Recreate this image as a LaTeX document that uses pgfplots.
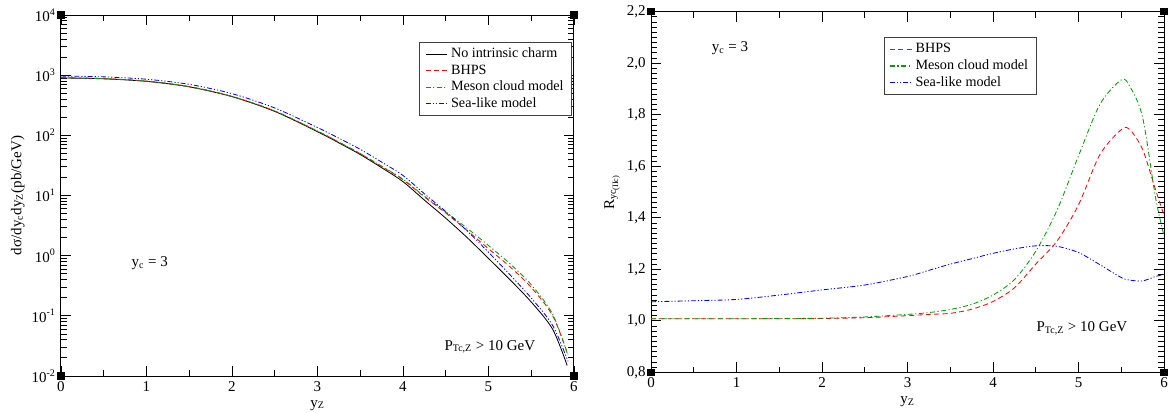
\documentclass[border=0pt]{standalone}
\usepackage{fontspec}
\setmainfont{Liberation Serif}
\usepackage{pgfplots}
\pgfplotsset{compat=1.18}
\definecolor{grgreen}{rgb}{0,0.6,0}
\tikzset{
  nic/.style={draw=black, line width=0.5pt},
  bhps/.style={draw=red, line width=0.5pt, dash pattern=on 3pt off 2pt},
  mcm/.style={draw=grgreen, line width=0.5pt, dash pattern=on 3pt off 1.5pt on 0.7pt off 1.5pt},
  sea/.style={draw=blue, line width=0.5pt, dash pattern=on 3pt off 1.2pt on 0.7pt off 1.2pt on 0.7pt off 1.2pt},
}
\pgfplotsset{
  myax/.style={
    scale only axis, clip=false,
    tick align=inside,
    major tick length=6pt, minor tick length=3.5pt,
    axis line style={line width=0.6pt},
    every tick/.style={black, line width=0.5pt},
    tick label style={font=\fontsize{9}{10}\selectfont},
    label style={font=\fontsize{9}{10}\selectfont},
    /pgf/number format/assume math mode=true,
    xmin=0, xmax=6, xtick={0,1,2,3,4,5,6}, minor x tick num=1,
    xlabel={y\textsubscript{Z}},
    xlabel style={yshift=1pt},
    legend cell align=left,
    legend image code/.code={\draw[##1, line width=0.7pt] (0pt,0pt) -- (13pt,0pt);},
    legend style={draw=black!75, line width=0.6pt, font=\fontsize{8.5}{9.5}\selectfont,
      inner xsep=3pt, inner ysep=1.5pt, row sep=-1.2pt},
  },
}
\newcommand{\corners}{%
  \fill[black] (rel axis cs:0,0) ++(-2.2pt,-2.2pt) rectangle ++(4.4pt,4.4pt);
  \fill[black] (rel axis cs:1,0) ++(-2.2pt,-2.2pt) rectangle ++(4.4pt,4.4pt);
  \fill[black] (rel axis cs:0,1) ++(-2.2pt,-2.2pt) rectangle ++(4.4pt,4.4pt);
  \fill[black] (rel axis cs:1,1) ++(-2.2pt,-2.2pt) rectangle ++(4.4pt,4.4pt);}
\begin{document}
\fontsize{9}{10}\selectfont
\begin{tikzpicture}[x=1pt,y=1pt]
\useasboundingbox (0,0) rectangle (703.2,-247.2);
% ---------------- left panel ----------------
\begin{axis}[myax,
  at={(36.6pt,-225.6pt)}, anchor=south west,
  width=307.8pt, height=216.6pt,
  ymode=log, ymin=1e-2, ymax=1e4,
  ytick={1e-2,1e-1,1,1e1,1e2,1e3,1e4},
  yticklabels={10\textsuperscript{-2},10\textsuperscript{-1},10\textsuperscript{0},10\textsuperscript{1},10\textsuperscript{2},10\textsuperscript{3},10\textsuperscript{4}},
  minor ytick={0.02,0.03,0.04,0.05,0.06,0.07,0.08,0.09,0.2,0.3,0.4,0.5,0.6,0.7,0.8,0.9,2,3,4,5,6,7,8,9,20,30,40,50,60,70,80,90,200,300,400,500,600,700,800,900,2000,3000,4000,5000,6000,7000,8000,9000},
  ylabel={dσ/dy\textsubscript{c}dy\textsubscript{Z}(pb/GeV)},
  ylabel style={yshift=-2pt},
  legend style={at={(0.997,0.926)}, anchor=north east},
]
\addplot[nic, smooth] coordinates {(0,900) (0.5,870) (1,790) (1.5,640) (2,440) (2.5,250) (3,115) (3.25,75) (3.5,48) (3.75,29) (4,17) (4.25,8.4) (4.5,4.2) (4.75,2.0) (5,0.9) (5.25,0.4) (5.5,0.17) (5.75,0.06) (5.92,0.015)};
\addlegendentry{No intrinsic charm}
\addplot[bhps, smooth] coordinates {(0,907) (0.5,877) (1,796) (1.5,645) (2,444) (2.5,253) (3,117.3) (3.25,76.9) (3.5,49.4) (3.75,30.3) (4,18.3) (4.25,9.48) (4.5,5.12) (4.75,2.62) (5,1.305) (5.25,0.656) (5.5,0.297) (5.75,0.101) (5.93,0.0225)};
\addlegendentry{BHPS}
\addplot[mcm, smooth] coordinates {(0,907) (0.5,877) (1,796) (1.5,646) (2,444) (2.5,254) (3,117.9) (3.25,77.4) (3.5,49.9) (3.75,30.7) (4,18.7) (4.25,9.74) (4.5,5.33) (4.75,2.86) (5,1.476) (5.25,0.736) (5.5,0.329) (5.75,0.107) (5.93,0.0218)};
\addlegendentry{Meson cloud model}
\addplot[sea, smooth] coordinates {(0,967) (0.5,938) (1,856) (1.5,704) (2,493) (2.5,285) (3,134.8) (3.25,89.7) (3.5,58.6) (3.75,36.0) (4,21.5) (4.25,10.7) (4.5,5.42) (4.75,2.58) (5,1.14) (5.25,0.484) (5.5,0.198) (5.75,0.0694) (5.93,0.0176)};
\addlegendentry{Sea-like model}
\node[font=\fontsize{9}{10}\selectfont] at (rel axis cs:0.173,0.313) {y\textsubscript{c} = 3};
\node[font=\fontsize{9}{10}\selectfont] at (rel axis cs:0.836,0.081) {P\textsubscript{Tc,Z} > 10 GeV};
\corners
\end{axis}
% ---------------- right panel ----------------
\begin{axis}[myax,
  at={(390.6pt,-223.4pt)}, anchor=south west,
  width=307.8pt, height=216.4pt,
  ymin=0.8, ymax=2.2,
  ytick={0.8,1.0,1.2,1.4,1.6,1.8,2.0,2.2},
  minor y tick num=9,
  yticklabel style={/pgf/number format/.cd, fixed, fixed zerofill, precision=1, use comma},
  ylabel={R\textsubscript{yc\textsubscript{(IIc)}}},
  ylabel style={yshift=-2pt},
  legend style={at={(0.454,0.929)}, anchor=north west},
]
\addplot[bhps, smooth] coordinates {(0,1.008) (0.5,1.008) (1,1.008) (1.5,1.008) (2,1.009) (2.5,1.012) (3,1.02) (3.25,1.025) (3.5,1.029) (3.75,1.045) (4,1.075) (4.25,1.128) (4.5,1.22) (4.75,1.31) (5,1.45) (5.25,1.645) (5.5,1.742) (5.6,1.742) (5.75,1.665) (5.9,1.51) (6,1.41)};
\addlegendentry{BHPS}
\addplot[mcm, smooth] coordinates {(0,1.008) (0.5,1.008) (1,1.008) (1.5,1.009) (2,1.010) (2.5,1.015) (3,1.025) (3.25,1.032) (3.5,1.044) (3.75,1.064) (4,1.10) (4.25,1.16) (4.5,1.27) (4.75,1.43) (5,1.64) (5.25,1.84) (5.5,1.935) (5.6,1.91) (5.75,1.79) (5.9,1.48) (6,1.33)};
\addlegendentry{Meson cloud model}
\addplot[sea, smooth] coordinates {(0,1.074) (0.5,1.078) (1,1.083) (1.5,1.10) (2,1.12) (2.5,1.139) (3,1.172) (3.25,1.196) (3.5,1.22) (3.75,1.241) (4,1.262) (4.25,1.279) (4.5,1.291) (4.75,1.289) (5,1.265) (5.25,1.218) (5.5,1.168) (5.6,1.158) (5.75,1.155) (5.9,1.172) (6,1.18)};
\addlegendentry{Sea-like model}
\node[font=\fontsize{9}{10}\selectfont] at (rel axis cs:0.154,0.898) {y\textsubscript{c} = 3};
\node[font=\fontsize{9}{10}\selectfont] at (rel axis cs:0.840,0.122) {P\textsubscript{Tc,Z} > 10 GeV};
\corners
\end{axis}
\end{tikzpicture}
\end{document}
